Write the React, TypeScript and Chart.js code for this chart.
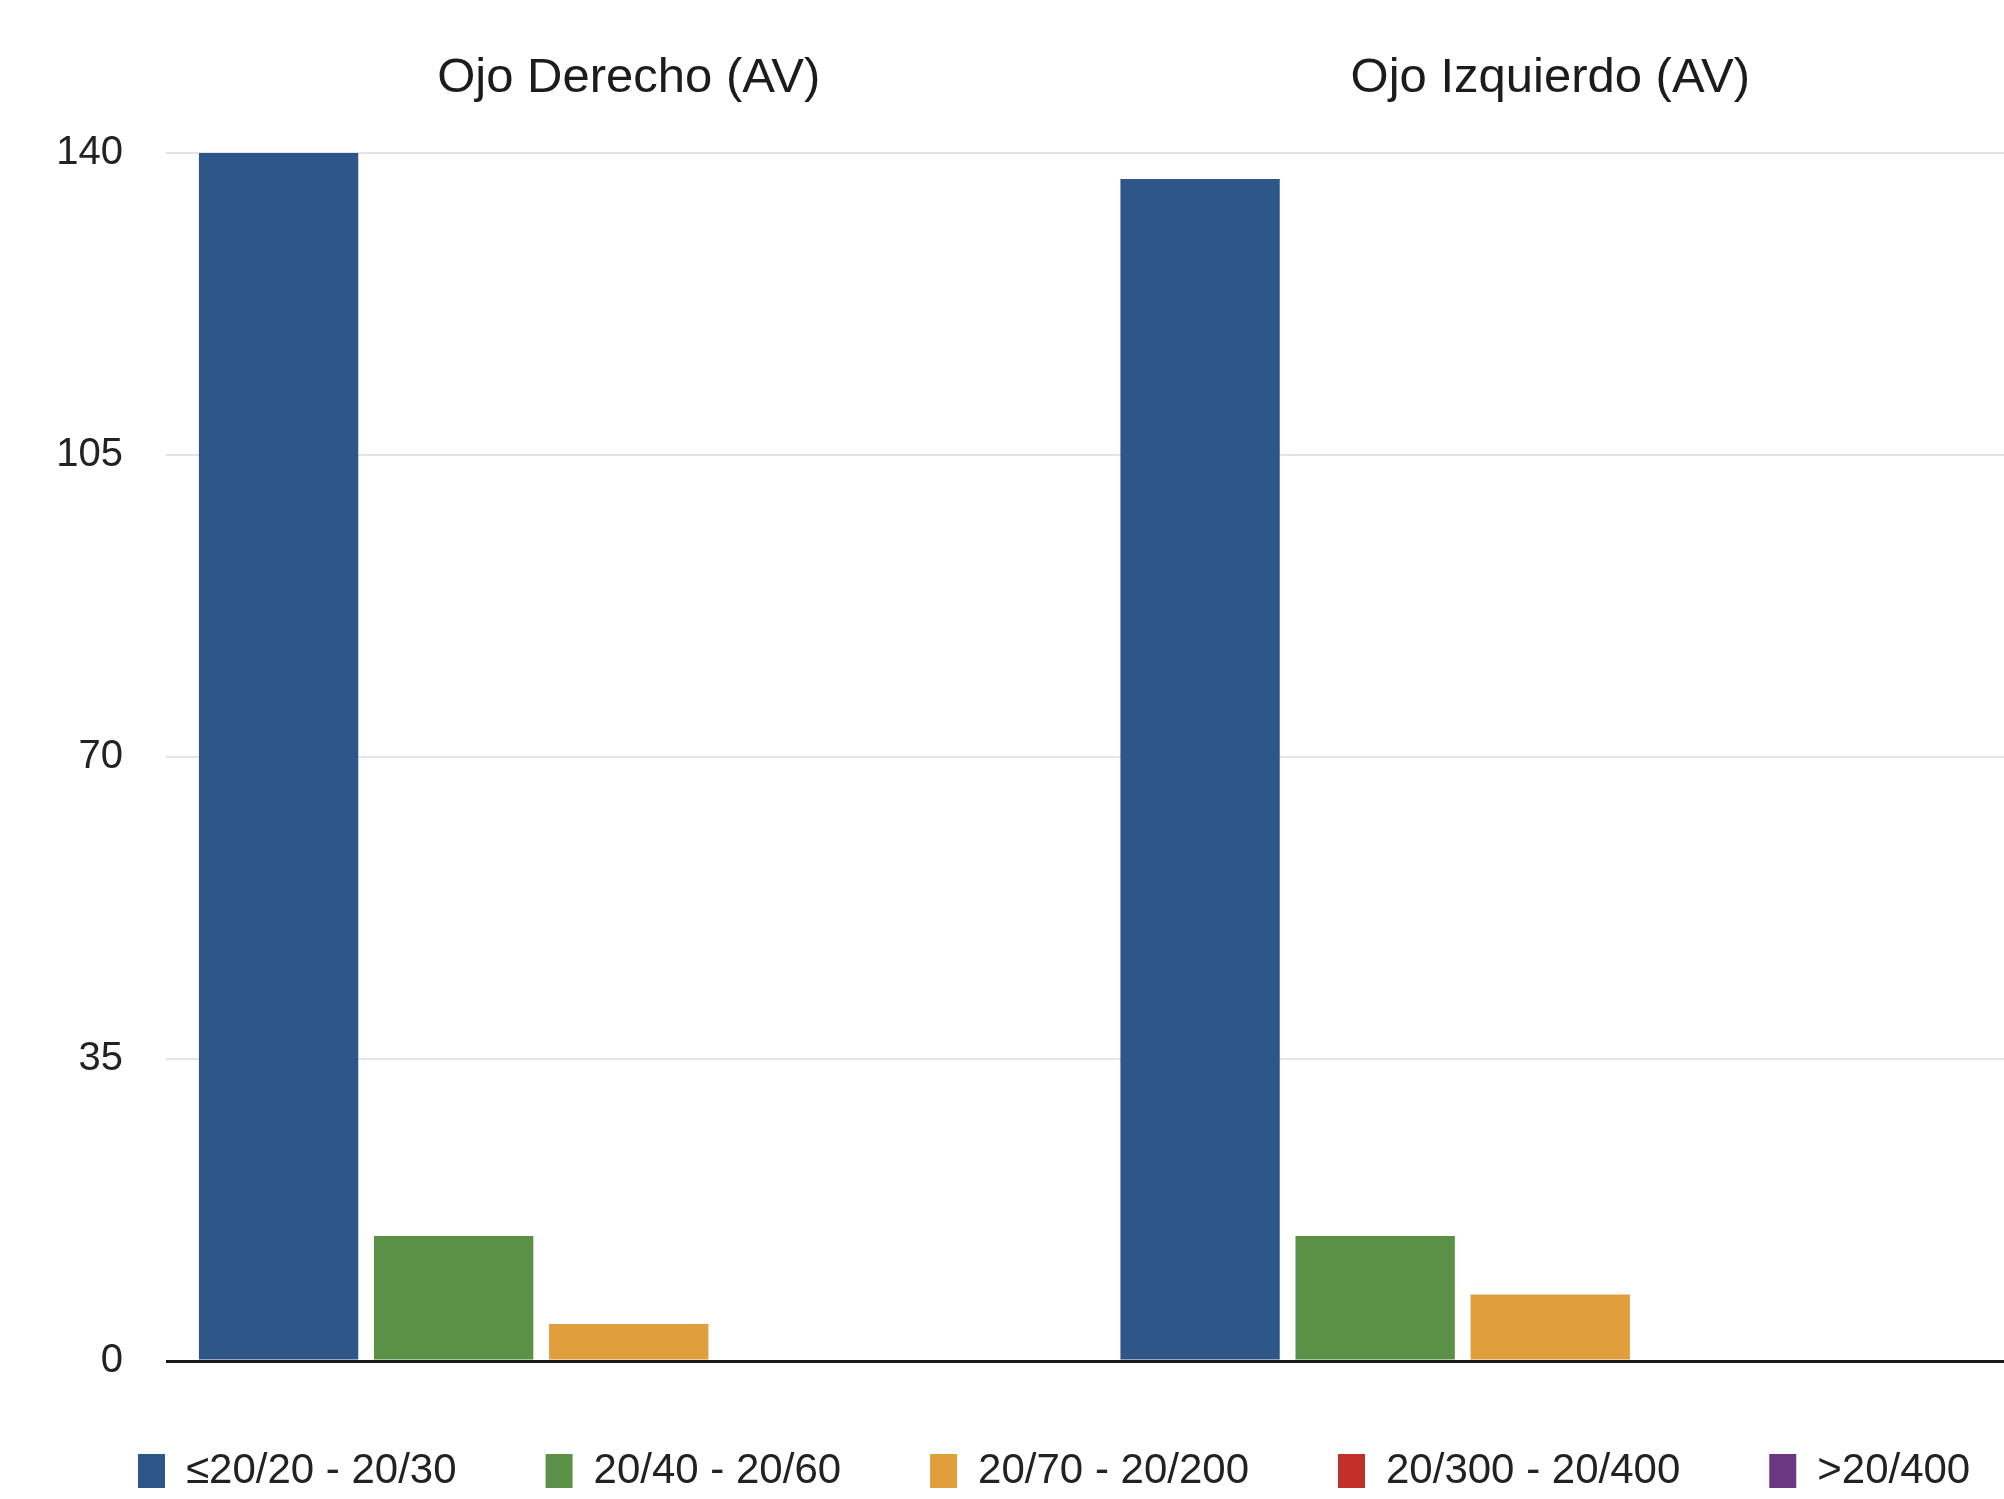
import React, { useEffect, useRef } from 'react';
import { Chart, registerables } from 'chart.js';

Chart.register(...registerables);

const categories = ['Ojo Derecho (AV)', 'Ojo Izquierdo (AV)'];
const seriesLabels = ['≤20/20 - 20/30', '20/40 - 20/60', '20/70 - 20/200', '20/300 - 20/400', '>20/400'];
const av20to30 = [140, 137];
const av40to60 = [14.5, 14.5];
const av70to200 = [4.3, 7.7];
const av300to400 = [0, 0];
const avOver400 = [0, 0];
const yTicks = [0, 35, 70, 105, 140];
const seriesColors = ['#2e5688', '#5a9146', '#e09e3d', '#c2302c', '#6c3883'];

const FONT = "'Liberation Sans', Arial, Helvetica, sans-serif";
const LEGEND_PADDING = 89;
const LEGEND_START = 138;
const PAD_LEFT = -80;
const Y_AXIS_RIGHT = 166;
const X_SCALE_LEFT = 168;
const X_SCALE_RIGHT = 2011;

const layoutTweaks = {
  id: 'layoutTweaks',
  afterLayout(chart: any) {
    const l = chart.legend;
    if (l) {
      const w = l.right - l.left;
      l.left = LEGEND_START - LEGEND_PADDING;
      l.right = l.left + w;
    }
    const xs = chart.scales.x;
    if (xs) {
      xs.left = X_SCALE_LEFT;
      xs.right = X_SCALE_RIGHT;
      xs.width = xs.right - xs.left;
      xs.configure();
    }
  },
};

export default function App() {
  const ref = useRef<HTMLCanvasElement>(null);

  useEffect(() => {
    const series = [av20to30, av40to60, av70to200, av300to400, avOver400];
    const chart = new Chart(ref.current!, {
      type: 'bar',
      data: {
        labels: categories,
        datasets: series.map((d, i) => ({
          label: seriesLabels[i],
          data: d,
          backgroundColor: seriesColors[i],
          borderWidth: 0,
          categoryPercentage: 0.95,
          barPercentage: 0.91,
        })),
      },
      plugins: [layoutTweaks],
      options: {
        responsive: false,
        animation: false,
        devicePixelRatio: 1,
        layout: { padding: { left: PAD_LEFT, right: 0, top: 0, bottom: -3 } },
        plugins: {
          tooltip: { enabled: false },
          legend: {
            position: 'bottom',
            align: 'start',
            labels: {
              boxWidth: 27,
              boxHeight: 34,
              padding: LEGEND_PADDING,
              color: '#222',
              font: { family: FONT, size: 42 },
            },
          },
        },
        scales: {
          x: {
            position: 'top',
            grid: { display: false },
            border: { display: false },
            ticks: {
              color: '#1c1c1c',
              font: { family: FONT, size: 49 },
              padding: 37,
              maxRotation: 0,
            },
            afterFit: (s: any) => {
              s.height = 153;
            },
          },
          y: {
            min: 0,
            max: 140,
            border: { display: false },
            grid: {
              drawTicks: false,
              color: (ctx: any) => (ctx.tick && ctx.tick.value === 0 ? '#1a1a1a' : '#e4e4e4'),
              lineWidth: (ctx: any) => (ctx.tick && ctx.tick.value === 0 ? 3 : 2),
            },
            ticks: {
              color: '#222',
              font: { family: FONT, size: 40 },
              padding: 43,
            },
            afterBuildTicks: (s: any) => {
              s.ticks = yTicks.map((v) => ({ value: v }));
            },
            afterFit: (s: any) => {
              s.width = Y_AXIS_RIGHT - PAD_LEFT;
            },
          },
        },
      },
    });
    return () => chart.destroy();
  }, []);

  return (
    <div style={{ position: 'absolute', left: 0, top: 0, width: 2004, height: 1499, background: '#fff', overflow: 'hidden' }}>
      <canvas ref={ref} width={2004} height={1499} style={{ width: 2004, height: 1499, display: 'block' }} />
    </div>
  );
}
